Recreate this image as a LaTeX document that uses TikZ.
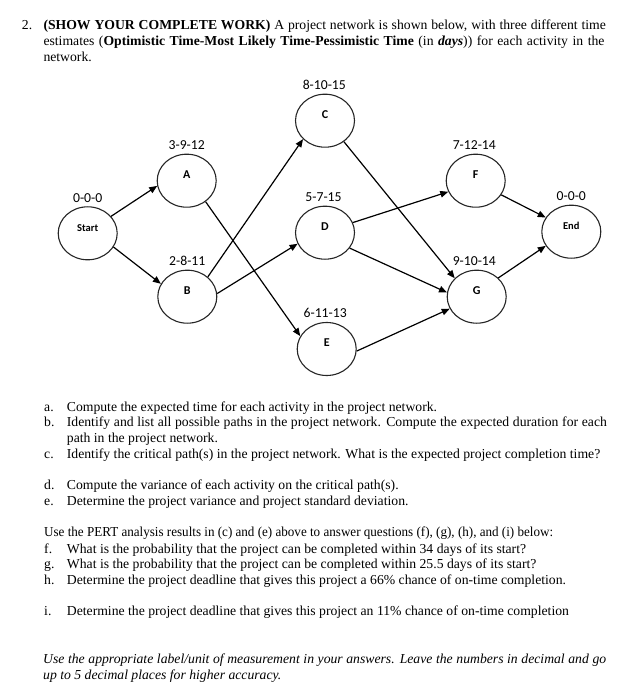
\documentclass[tikz,border=0pt]{standalone}
\usepackage{fontspec}
\setmainfont{Liberation Serif}
\newfontfamily\calfont{Carlito}
\usetikzlibrary{arrows.meta,shapes.geometric}
\begin{document}
\begin{tikzpicture}[x=1pt,y=-1pt,
  ev/.style={ellipse, draw=black!85, line width=1.1pt, minimum width=59pt, minimum height=53pt,
    inner sep=0pt, font=\calfont\bfseries\fontsize{12}{12}\selectfont, text height=8pt, text depth=12.2pt},
  evs/.style={ev, font=\calfont\bfseries\fontsize{10.5}{10}\selectfont},
  lab/.style={font=\calfont\fontsize{13.7}{14}\selectfont, inner sep=0pt, anchor=base},
  arr/.style={-{Triangle[length=8pt,width=6.5pt]}, line width=1.2pt},
  tx/.style={anchor=base west, inner sep=0pt, font=\fontsize{13.7}{16}\selectfont}]
\useasboundingbox (0,0) rectangle (641,700);
\fill[white] (0,0) rectangle (641,700);

% header text
\node[tx] (n2) at (21.7,29.3) {2.};
\node[tx] (l1) at (43.3,29.3) {\makebox[562.4pt][s]{\textbf{(SHOW YOUR COMPLETE WORK)} A project network is shown below, with three different time}};
\node[tx] (l2) at (43.3,45.5) {\makebox[561pt][s]{estimates (\textbf{Optimistic Time-Most Likely Time-Pessimistic Time} (in \textbf{\textit{days}})) for each activity in the}};
\node[tx] (l3) at (43.3,61.5) {network.};

% network
\node[evs] (Start) at (87.7,233.3) {Start};
\node[ev] (A) at (186.7,180.7) {A};
\node[ev] (B) at (187.3,296.7) {B};
\node[ev] (C) at (325,120.7) {C};
\node[ev] (D) at (325,232.7) {D};
\node[ev] (E) at (326.7,349) {E};
\node[ev] (F) at (475.7,180.7) {F};
\node[ev] (G) at (476.7,296.7) {G};
\node[evs] (End) at (571.3,231.7) {End};

\node[lab] (Slab) at ([yshift=4pt]Start.north) {0-0-0};
\node[lab] (Alab) at ([yshift=4pt]A.north) {3-9-12};
\node[lab] (Blab) at ([yshift=4pt]B.north) {2-8-11};
\node[lab] (Clab) at ([xshift=-0.7pt,yshift=4.5pt]C.north) {8-10-15};
\node[lab] (Dlab) at ([xshift=-1.5pt,yshift=4.5pt]D.north) {5-7-15};
\node[lab] (Elab) at ([xshift=-1.5pt,yshift=4.5pt]E.north) {6-11-13};
\node[lab] (Flab) at ([xshift=-1.4pt,yshift=4pt]F.north) {7-12-14};
\node[lab] (Glab) at ([xshift=-2.4pt,yshift=4pt]G.north) {9-10-14};
\node[lab] (Endlab) at ([yshift=4pt]End.north) {0-0-0};

\draw[arr] (Start.36) -- (A.190);
\draw[arr] (Start.-28) -- (B.154);
\draw[arr] (A.-48) -- (E.154);
\draw[arr] (B.44) -- (C.220);
\draw[arr] (B.6) -- (D.202);
\draw[arr] (C.-48) -- (G.140);
\draw[arr] (D.20) -- (F.202);
\draw[arr] (D.-32) -- (G.172);
\draw[arr] (E.-4) -- (G.204);
\draw[arr] (F.-29) -- (End.151);
\draw[arr] (G.41) -- (End.209);

% questions
\node[tx] (qa) at (44,411) {a.};
\node[tx] (ta) at (66.7,411) {Compute the expected time for each activity in the project network.};
\node[tx] (qb) at (44,426.5) {b.};
\node[tx] (tb) at (66.7,426.5) {\makebox[540pt][s]{Identify and list all possible paths in the project network. Compute the expected duration for each}};
\node[tx] (tb2) at (66.7,442.2) {path in the project network.};
\node[tx] (qc) at (44,458) {c.};
\node[tx] (tc) at (66.7,458) {Identify the critical path(s) in the project network. What is the expected project completion time?};
\node[tx] (qd) at (44,489.5) {d.};
\node[tx] (td) at (66.7,489.5) {Compute the variance of each activity on the critical path(s).};
\node[tx] (qe) at (44,505.5) {e.};
\node[tx] (te) at (66.7,505.5) {Determine the project variance and project standard deviation.};
\node[tx] (use) at (44,536) {\scalebox{0.955}[1]{Use the PERT analysis results in (c) and (e) above to answer questions (f), (g), (h), and (i) below:}};
\node[tx] (qf) at (44,553) {f.};
\node[tx] (tf) at (66.7,553) {What is the probability that the project can be completed within 34 days of its start?};
\node[tx] (qg) at (44,568.5) {g.};
\node[tx] (tg) at (66.7,568.5) {What is the probability that the project can be completed within 25.5 days of its start?};
\node[tx] (qh) at (44,584.5) {h.};
\node[tx] (th) at (66.7,584.5) {Determine the project deadline that gives this project a 66\% chance of on-time completion.};
\node[tx] (qi) at (44,615.5) {i.};
\node[tx] (ti) at (66.7,615.5) {Determine the project deadline that gives this project an 11\% chance of on-time completion};
\node[tx] (it1) at (43,663.5) {\itshape\makebox[563pt][s]{Use the appropriate label/unit of measurement in your answers. Leave the numbers in decimal and go}};
\node[tx] (it2) at (43,679) {\itshape up to 5 decimal places for higher accuracy.};
\end{tikzpicture}
\end{document}
